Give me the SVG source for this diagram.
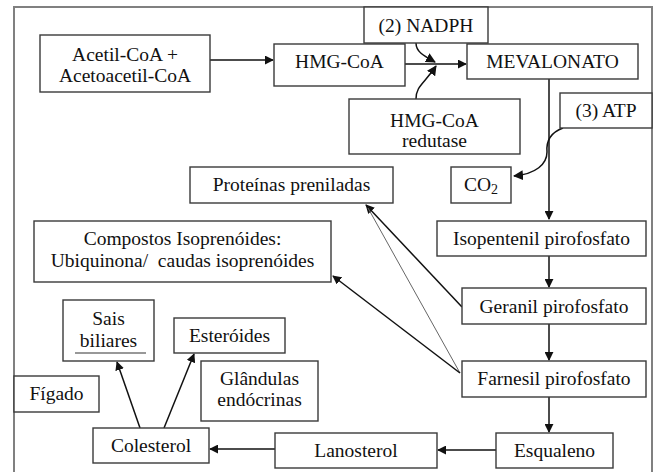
<svg xmlns="http://www.w3.org/2000/svg" width="658" height="472" viewBox="0 0 658 472">
<style>
.box{fill:#fff;stroke:#3a3a3a;stroke-width:1.4}
.t{font-family:"Liberation Serif","Times New Roman",serif;font-size:19.5px;fill:#111;text-anchor:middle}
.c{fill:none;stroke:#111;stroke-width:1.5}
.thin{fill:none;stroke:#666;stroke-width:1}
</style>
<defs>
<marker id="ah" viewBox="0 0 10 10" refX="9" refY="5" markerWidth="9" markerHeight="9" markerUnits="userSpaceOnUse" orient="auto"><path d="M0,0 L10,5 L0,10 z" fill="#111"/></marker>
<marker id="ahs" viewBox="0 0 10 10" refX="9" refY="5" markerWidth="10" markerHeight="10" markerUnits="userSpaceOnUse" orient="auto"><path d="M0,0 L10,5 L0,10 z" fill="#111"/></marker>
</defs>
<rect x="0" y="0" width="658" height="472" fill="#fff"/>
<rect id="frame" x="14" y="7" width="638" height="480" fill="none" stroke="#808080" stroke-width="2"/>

<g id="connectors">
<line class="c" x1="210" y1="60" x2="273" y2="60" marker-end="url(#ah)"/>
<line class="c" x1="405" y1="64" x2="466" y2="64" marker-end="url(#ah)"/>
<path class="c" d="M416,43 C416,52 424,56 435,62" marker-end="url(#ahs)"/>
<path class="c" d="M416,99 C416,86 424,84 436,66" marker-end="url(#ahs)"/>
<line class="c" x1="549" y1="79" x2="549" y2="219" marker-end="url(#ah)"/>
<path class="c" d="M563,128 C552,132 546,140 547,152 C547,164 536,174 514,176" marker-end="url(#ahs)"/>
<line class="c" x1="549" y1="256" x2="549" y2="287" marker-end="url(#ah)"/>
<line class="c" x1="549" y1="324" x2="549" y2="360" marker-end="url(#ah)"/>
<line class="c" x1="549" y1="397" x2="549" y2="432" marker-end="url(#ah)"/>
<line class="c" x1="496" y1="450" x2="438" y2="450" marker-end="url(#ah)"/>
<line class="c" x1="275" y1="449" x2="210" y2="449" marker-end="url(#ah)"/>
<line class="c" x1="140" y1="428" x2="117" y2="362" marker-end="url(#ah)"/>
<line class="c" x1="164" y1="428" x2="194" y2="354" marker-end="url(#ah)"/>
<line class="c" x1="462" y1="307" x2="366" y2="205" marker-end="url(#ah)"/>
<line class="thin" x1="460" y1="373" x2="368" y2="208"/>
<line class="c" x1="460" y1="373" x2="333" y2="276" marker-end="url(#ah)"/>
</g>

<g id="acetil"><rect class="box" x="40" y="35" width="170" height="57"/>
<text class="t" x="125" y="61">Acetil-CoA +</text><text class="t" x="125" y="82">Acetoacetil-CoA</text></g>
<g id="hmgcoa"><rect class="box" x="274" y="44" width="131" height="42"/>
<text class="t" x="339.5" y="68">HMG-CoA</text></g>
<g id="nadph"><rect class="box" x="364" y="7" width="124" height="36"/>
<text class="t" x="426" y="32">(2) NADPH</text></g>
<g id="mevalonato"><rect class="box" x="467" y="44" width="171" height="35"/>
<text class="t" x="552.5" y="68">MEVALONATO</text></g>
<g id="redutase"><rect class="box" x="349" y="99" width="171" height="55"/>
<text class="t" x="434.5" y="127">HMG-CoA</text><text class="t" x="434.5" y="147">redutase</text></g>
<g id="atp"><rect class="box" x="560" y="93" width="92" height="35"/>
<text class="t" x="606" y="117">(3) ATP</text></g>
<g id="co2"><rect class="box" x="451" y="167" width="60" height="36"/>
<text class="t" x="481" y="191">CO<tspan font-size="14" dy="3">2</tspan></text></g>
<g id="proteinas"><rect class="box" x="190" y="167" width="203" height="36"/>
<text class="t" x="291.5" y="191">Proteínas preniladas</text></g>
<g id="compostos"><rect class="box" x="34" y="221" width="297" height="61"/>
<text class="t" x="182.5" y="245">Compostos Isoprenóides:</text><text class="t" x="182.5" y="267" xml:space="preserve">Ubiquinona/  caudas isoprenóides</text></g>
<g id="isopentenil"><rect class="box" x="437" y="221" width="209" height="35"/>
<text class="t" x="541.5" y="245">Isopentenil pirofosfato</text></g>
<g id="geranil"><rect class="box" x="462" y="288" width="184" height="36"/>
<text class="t" x="554" y="313">Geranil pirofosfato</text></g>
<g id="farnesil"><rect class="box" x="462" y="361" width="184" height="36"/>
<text class="t" x="554" y="385">Farnesil pirofosfato</text></g>
<g id="esqualeno"><rect class="box" x="496" y="433" width="117" height="35"/>
<text class="t" x="554.5" y="457">Esqualeno</text></g>
<g id="lanosterol"><rect class="box" x="275" y="433" width="162" height="35"/>
<text class="t" x="356" y="457">Lanosterol</text></g>
<g id="colesterol"><rect class="box" x="93" y="428" width="116" height="35"/>
<text class="t" x="151" y="452">Colesterol</text></g>
<g id="sais"><rect class="box" x="63" y="300" width="91" height="61"/>
<text class="t" x="108.5" y="325">Sais</text><text class="t" x="108.5" y="347">biliares</text>
<line x1="75" y1="353" x2="146" y2="353" stroke="#333" stroke-width="1.2"/></g>
<g id="esteroides"><rect class="box" x="174" y="318" width="111" height="35"/>
<text class="t" x="229.5" y="342">Esteróides</text></g>
<g id="glandulas"><rect class="box" x="201" y="361" width="117" height="60"/>
<text class="t" x="259.5" y="385">Glândulas</text><text class="t" x="259.5" y="406">endócrinas</text></g>
<g id="figado"><rect class="box" x="14" y="376" width="85" height="36"/>
<text class="t" x="56.5" y="400">Fígado</text></g>
</svg>
